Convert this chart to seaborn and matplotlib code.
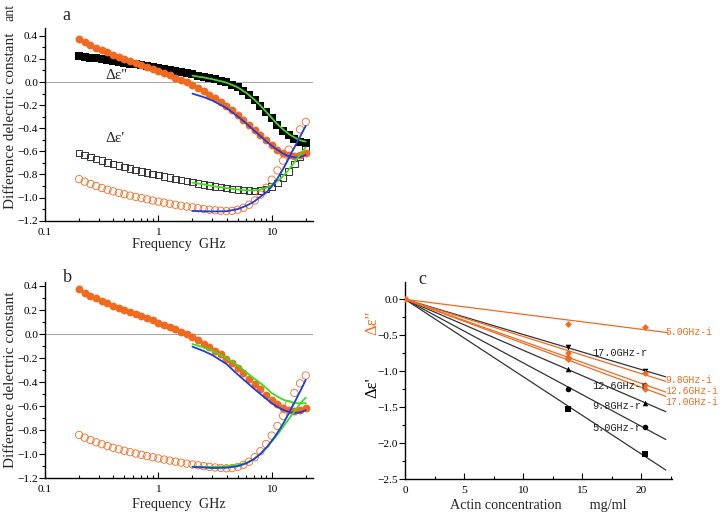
import numpy as np
import pandas as pd
import matplotlib
matplotlib.use("Agg")
import matplotlib.pyplot as plt
import seaborn as sns
from matplotlib.ticker import FixedLocator, FixedFormatter, MultipleLocator, NullFormatter

sns.set_theme(style="ticks")
plt.rcParams['font.family'] = ['Liberation Serif', 'DejaVu Serif']
plt.rcParams['axes.unicode_minus'] = True

# ---------------- data ----------------
freq = [0.200, 0.224, 0.252, 0.283, 0.317, 0.356, 0.399, 0.448, 0.502, 0.564,
        0.632, 0.710, 0.796, 0.893, 1.002, 1.125, 1.262, 1.416, 1.589, 1.783,
        2.000, 2.244, 2.518, 2.825, 3.170, 3.557, 3.991, 4.477, 5.024, 5.637,
        6.325, 7.096, 7.962, 8.934, 10.02, 11.25, 12.62, 14.16, 15.89, 17.83, 20.00]

# Δε'' sample 1 (black filled squares)
de2_black = [0.225, 0.218, 0.212, 0.205, 0.198, 0.190, 0.182, 0.175, 0.167, 0.160,
             0.152, 0.145, 0.138, 0.130, 0.122, 0.114, 0.105, 0.096, 0.086, 0.076,
             0.066, 0.056, 0.046, 0.035, 0.024, 0.011, -0.004, -0.022, -0.045, -0.075,
             -0.110, -0.155, -0.205, -0.260, -0.315, -0.370, -0.420, -0.460, -0.490, -0.515, -0.530]
# Δε'' sample 2 (orange filled circles)
de2_orange = [0.372, 0.345, 0.320, 0.297, 0.276, 0.256, 0.237, 0.218, 0.200, 0.183,
              0.165, 0.148, 0.130, 0.113, 0.095, 0.077, 0.058, 0.039, 0.019, -0.003,
              -0.027, -0.053, -0.080, -0.108, -0.138, -0.170, -0.205, -0.243, -0.283, -0.325,
              -0.370, -0.415, -0.460, -0.505, -0.548, -0.585, -0.615, -0.635, -0.643, -0.635, -0.615]
# Δε' sample 1 (black open squares)
de1_black = [-0.615, -0.633, -0.650, -0.666, -0.681, -0.695, -0.709, -0.722, -0.735, -0.748,
             -0.760, -0.772, -0.784, -0.795, -0.806, -0.817, -0.828, -0.838, -0.848, -0.858,
             -0.867, -0.876, -0.885, -0.894, -0.902, -0.910, -0.918, -0.925, -0.931, -0.936,
             -0.940, -0.941, -0.937, -0.925, -0.905, -0.872, -0.828, -0.772, -0.710, -0.643, -0.575]
# Δε' sample 2 (orange open circles)
de1_orange = [-0.840, -0.862, -0.882, -0.900, -0.917, -0.932, -0.946, -0.959, -0.971, -0.983,
              -0.994, -1.005, -1.015, -1.025, -1.035, -1.044, -1.053, -1.062, -1.070, -1.078,
              -1.085, -1.092, -1.099, -1.105, -1.110, -1.114, -1.117, -1.115, -1.105, -1.088,
              -1.062, -1.025, -0.975, -0.915, -0.845, -0.765, -0.680, -0.585, -0.490, -0.410, -0.345]

fit_freq = [2, 2.5, 3, 4, 5, 6, 7, 8, 9, 10, 11, 12, 13, 14, 15, 16, 17, 18, 19, 20]
# panel a fits
a_fit_green_up = [0.055, 0.040, 0.025, -0.005, -0.045, -0.095, -0.150, -0.205, -0.260, -0.310,
                  -0.355, -0.390, -0.420, -0.445, -0.465, -0.480, -0.495, -0.505, -0.512, -0.515]
a_fit_blue_up = [-0.100, -0.130, -0.160, -0.225, -0.295, -0.360, -0.420, -0.470, -0.515, -0.550,
                 -0.580, -0.605, -0.625, -0.640, -0.648, -0.652, -0.652, -0.648, -0.640, -0.630]
a_fit_green_low = [-0.870, -0.885, -0.900, -0.918, -0.930, -0.937, -0.938, -0.930, -0.915, -0.893,
                   -0.865, -0.835, -0.800, -0.765, -0.728, -0.690, -0.655, -0.620, -0.590, -0.565]
a_fit_blue_low = [-1.115, -1.118, -1.120, -1.118, -1.100, -1.070, -1.035, -0.990, -0.955, -0.905,
                  -0.850, -0.790, -0.730, -0.670, -0.610, -0.560, -0.510, -0.465, -0.420, -0.380]
# panel b fits
b_fit_blue_up = [-0.105, -0.140, -0.175, -0.250, -0.335, -0.400, -0.455, -0.500, -0.540, -0.575,
                 -0.600, -0.620, -0.635, -0.645, -0.652, -0.655, -0.655, -0.650, -0.642, -0.632]
b_fit_green_up = [-0.083, -0.110, -0.140, -0.200, -0.260, -0.320, -0.370, -0.410, -0.450, -0.490,
                  -0.515, -0.535, -0.550, -0.560, -0.567, -0.572, -0.575, -0.576, -0.576, -0.575]
b_fit_blue_low = [-1.105, -1.110, -1.115, -1.112, -1.100, -1.075, -1.040, -0.995, -0.945, -0.890,
                  -0.835, -0.780, -0.725, -0.670, -0.615, -0.565, -0.515, -0.470, -0.425, -0.380]
b_fit_green_low = [-1.103, -1.105, -1.105, -1.100, -1.090, -1.070, -1.040, -0.995, -0.945, -0.895,
                   -0.850, -0.800, -0.755, -0.715, -0.675, -0.640, -0.605, -0.575, -0.550, -0.530]

# panel c: actin concentration dependence
conc = [13.8, 20.3]
r_labels = ["17.0GHz-r", "12.6GHz-r", "9.8GHz-r", "5.0GHz-r"]
r_values = [[-0.66, -1.00], [-0.97, -1.44], [-1.25, -1.77], [-1.53, -2.15]]
r_markers = ["v", "^", "o", "s"]
i_labels = ["5.0GHz-i", "9.8GHz-i", "12.6GHz-i", "17.0GHz-i"]
i_values = [[-0.35, -0.38], [-0.74, -1.03], [-0.80, -1.19], [-0.83, -1.25]]

# ---------------- styling ----------------
ORANGE = "#f26a1f"
BLUE = "#1e3de0"
GREEN = "#3ddc1e"
GRAY = "#a8a8a8"
TICK_FS = 8.2
XLAB_FS = 10.2
YLAB_FS = 11.0

fig = plt.figure(figsize=(7.2, 5.17), dpi=100)
axA = fig.add_axes([0.0625, 0.5731, 0.3717, 0.3733])
axB = fig.add_axes([0.0625, 0.0749, 0.3717, 0.3803])
axC = fig.add_axes([0.5625, 0.0735, 0.3704, 0.3816])


def style_axes(ax):
    for s in ["top", "right"]:
        ax.spines[s].set_visible(False)
    for s in ["left", "bottom"]:
        ax.spines[s].set_linewidth(1.0)
        ax.spines[s].set_color("black")
    ax.tick_params(axis="both", which="both", colors="black", labelsize=TICK_FS, width=0.8)
    ax.tick_params(axis="x", which="major", direction="in", length=4, pad=5)
    ax.tick_params(axis="x", which="minor", direction="in", length=2.5)
    ax.tick_params(axis="y", which="major", direction="out", length=4, pad=1)
    ax.tick_params(axis="y", which="minor", direction="out", length=2)


def freq_panel(ax, ylim, fits, xlabelpad, ylab_y):
    ax.set_xscale("log")
    ax.set_xlim(0.1, 23)
    ax.set_ylim(*ylim)
    ax.axhline(0, color=GRAY, lw=0.8, zorder=1)
    ax.xaxis.set_major_locator(FixedLocator([0.1, 1, 10]))
    ax.xaxis.set_major_formatter(FixedFormatter(["0.1", "1", "10"]))
    ax.xaxis.set_minor_locator(FixedLocator([m * d for d in (0.1, 1, 10) for m in range(2, 10)]))
    ax.xaxis.set_minor_formatter(NullFormatter())
    ax.yaxis.set_major_locator(MultipleLocator(0.2))
    ax.yaxis.set_minor_locator(MultipleLocator(0.1))
    ax.set_xlabel("Frequency  GHz", fontsize=XLAB_FS, labelpad=xlabelpad)
    ax.set_ylabel("Difference delectric constant", fontsize=YLAB_FS)
    ax.yaxis.set_label_coords(-0.103, ylab_y)
    style_axes(ax)
    for vals, col in fits:
        sns.lineplot(x=fit_freq, y=vals, color=col, lw=1.3, ax=ax, zorder=5, legend=False)


# ---- panel a ----
sns.scatterplot(x=freq, y=de1_black, marker="s", s=22, facecolor="none",
                edgecolor="#333333", linewidth=0.7, ax=axA, zorder=3)
sns.scatterplot(x=freq, y=de1_orange, marker="o", s=28, facecolor="none",
                edgecolor=ORANGE, linewidth=0.6, ax=axA, zorder=3)
sns.scatterplot(x=freq, y=de2_black, marker="s", s=32, color="black",
                edgecolor="black", linewidth=0, ax=axA, zorder=3)
sns.scatterplot(x=freq, y=de2_orange, marker="o", s=32, color=ORANGE,
                edgecolor=ORANGE, linewidth=0, ax=axA, zorder=4)
freq_panel(axA, (-1.2, 0.47), [(a_fit_green_up, GREEN), (a_fit_blue_up, BLUE),
                               (a_fit_green_low, GREEN), (a_fit_blue_low, BLUE)], 1, 0.52)
axA.text(0.34, 0.06, "Δε''", fontsize=11, va="center")
axA.text(0.34, -0.49, "Δε'", fontsize=11, va="center")

# ---- panel b ----
sns.scatterplot(x=freq, y=de1_orange, marker="o", s=28, facecolor="none",
                edgecolor=ORANGE, linewidth=0.6, ax=axB, zorder=3)
sns.scatterplot(x=freq, y=de2_orange, marker="o", s=32, color=ORANGE,
                edgecolor=ORANGE, linewidth=0, ax=axB, zorder=4)
freq_panel(axB, (-1.2, 0.436), [(b_fit_green_up, GREEN), (b_fit_blue_up, BLUE),
                                (b_fit_green_low, GREEN), (b_fit_blue_low, BLUE)], 3, 0.5)

# ---- panel c ----
xline = [0, 22.1]
cx = np.array(conc)
for lab, vals, mk in zip(r_labels, r_values, r_markers):
    v = np.array(vals)
    slope = np.sum(cx * v) / np.sum(cx * cx)
    sns.lineplot(x=xline, y=[0, slope * xline[1]], color="#333333", lw=0.9, ax=axC, zorder=2)
    sns.scatterplot(x=conc, y=vals, marker=mk, s=16, color="black", edgecolor="black",
                    linewidth=0, ax=axC, zorder=4)
for lab, vals in zip(i_labels, i_values):
    v = np.array(vals)
    slope = np.sum(cx * v) / np.sum(cx * cx)
    xe = 22.3 if lab.startswith("5.0") else 22.1
    sns.lineplot(x=[0, xe], y=[0, slope * xe], color=ORANGE, lw=0.9, ax=axC, zorder=3)
    sns.scatterplot(x=conc, y=vals, marker="D", s=12, color=ORANGE, edgecolor=ORANGE,
                    linewidth=0, ax=axC, zorder=5)
sns.scatterplot(x=[0], y=[0], marker="o", s=22, color=ORANGE, edgecolor=ORANGE,
                linewidth=0, ax=axC, zorder=6)

axC.set_xlim(0, 22.6)
axC.set_ylim(-2.5, 0.245)
axC.xaxis.set_major_locator(MultipleLocator(5))
axC.xaxis.set_minor_locator(MultipleLocator(2.5))
axC.yaxis.set_major_locator(MultipleLocator(0.5))
axC.yaxis.set_minor_locator(MultipleLocator(0.25))
style_axes(axC)
axC.set_xlabel("Actin concentration        mg/ml", fontsize=XLAB_FS, labelpad=3)

mono = "Liberation Mono"
r_pos = [(15.85, -0.74), (15.85, -1.20), (15.85, -1.49), (15.85, -1.79)]
for lab, (tx, ty) in zip(r_labels, r_pos):
    axC.text(tx, ty, lab, family=mono, fontsize=7.4, color="#222222", va="center", ha="left", zorder=7)
i_pos = [(22.05, -0.45), (22.05, -1.12), (22.05, -1.275), (22.05, -1.424)]
for lab, (tx, ty) in zip(i_labels, i_pos):
    axC.text(tx, ty, lab, family=mono, fontsize=7.0, color=ORANGE, va="center", ha="left",
             clip_on=False)

# panel letters and extra labels
fig.text(62 / 720, 1 - 15 / 517, "a", fontsize=13, va="center", ha="left")
fig.text(63 / 720, 1 - 277 / 517, "b", fontsize=13, va="center", ha="left")
fig.text(418 / 720, 1 - 280 / 517, "c", fontsize=13, va="center", ha="left")
fig.text(372 / 720, 1 - 323 / 517, "Δε″", fontsize=12, color=ORANGE, rotation=90,
         va="center", ha="center")
fig.text(372 / 720, 1 - 388 / 517, "Δε'", fontsize=12, color="black", rotation=90,
         va="center", ha="center")
fig.text(10 / 720, 1 - 12 / 517, "ant", fontsize=10, color="#333333", rotation=90,
         va="center", ha="center")

fig.savefig("out.png", dpi=100)
